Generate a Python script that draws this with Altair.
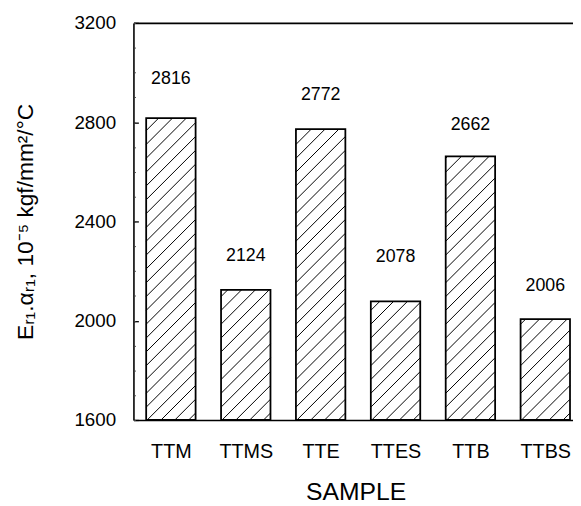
import altair as alt
import pandas as pd

# ---- data ----
samples = ["TTM", "TTMS", "TTE", "TTES", "TTB", "TTBS"]
values = [2816, 2124, 2772, 2078, 2662, 2006]
label_y = [2975, 2260, 2910, 2258, 2790, 2140]   # where the value labels sit
y_ticks = [1600, 2000, 2400, 2800, 3200]
y_minor = list(range(1600, 3201, 100))

# ---- layout ----
W, H = 445, 402
x_dom = [-0.5, 5.37]
y_dom = [y_ticks[0], y_ticks[-1]]
half = 0.33

bars = pd.DataFrame({"idx": list(range(len(samples))), "sample": samples,
                     "value": values, "label_y": label_y})
bars["x0"] = bars["idx"] - half
bars["x1"] = bars["idx"] + half
bars["base"] = y_dom[0]

# hatch segments (45 deg in pixel space), clipped to each bar
ppx = W / (x_dom[1] - x_dom[0])
ppy = H / (y_dom[1] - y_dom[0])
slope = ppx / ppy
gap = 14 / ppy
rows = []
for i, v in enumerate(values):
    x0, x1 = i - half, i + half
    span = slope * (x1 - x0)
    c = y_dom[0] - span + gap * 0.5
    while c < v:
        ya, yb, xa, xb = c, c + span, x0, x1
        if ya < y_dom[0]:
            xa = x0 + (y_dom[0] - c) / slope
            ya = y_dom[0]
        if yb > v:
            xb = x0 + (v - c) / slope
            yb = v
        if xb > xa:
            rows.append(dict(hx=xa, hy=ya, hx2=xb, hy2=yb))
        c += gap
hatch = pd.DataFrame(rows)

xs = alt.Scale(domain=x_dom, nice=False, zero=False)
ys = alt.Scale(domain=y_dom, nice=False, zero=False)
label_expr = "[" + ",".join(f"'{s}'" for s in samples) + "][datum.value]"
ytitle = "Eᵣ₁.αᵣ₁, 10⁻⁵ kgf/mm²/°C"

bar_layer = alt.Chart(bars).mark_bar(fill="white", stroke="black", strokeWidth=1.8).encode(
    x=alt.X("x0:Q", scale=xs, axis=alt.Axis(
        orient="bottom", values=list(range(len(samples))), labelExpr=label_expr,
        ticks=False, tickSize=0, labelPadding=22, labelFontSize=20, labelColor="black",
        domainColor="black", domainWidth=1.6, grid=False,
        title="SAMPLE", titleFontSize=25, titleFontWeight="normal", titleColor="black",
        titleX=225, titleY=81, titleBaseline="alphabetic", titleAlign="center")),
    x2="x1:Q",
    y=alt.Y("value:Q", scale=ys, axis=alt.Axis(
        orient="left", values=y_ticks, format="d", ticks=False, tickSize=0,
        labelPadding=18, labelFontSize=19, labelColor="black", grid=False,
        domainColor="black", domainWidth=1.6,
        title=ytitle, titleFontSize=23, titleFontWeight="normal", titleColor="black",
        titleX=-102, titleY=201, titleAngle=270, titleAlign="center",
        titleBaseline="alphabetic")),
    y2="base:Q",
)

hatch_layer = alt.Chart(hatch).mark_rule(color="black", strokeWidth=1).encode(
    x=alt.X("hx:Q", scale=xs, axis=None),
    x2="hx2:Q",
    y=alt.Y("hy:Q", scale=ys, axis=None),
    y2="hy2:Q",
)

text_layer = alt.Chart(bars).mark_text(fontSize=18, color="black", align="center",
                                       baseline="middle").encode(
    x=alt.X("idx:Q", scale=xs, axis=None),
    y=alt.Y("label_y:Q", scale=ys, axis=None),
    text="value:Q",
)

frame = alt.Chart(pd.DataFrame({"v": y_ticks, "fx": x_dom[0]})).mark_point(opacity=0).encode(
    x=alt.X("fx:Q", scale=xs, axis=alt.Axis(orient="top", labels=False, ticks=False,
                                            domainColor="black", domainWidth=1.6,
                                            grid=False, title="")),
    y=alt.Y("v:Q", scale=ys, axis=alt.Axis(orient="left", values=y_ticks, offset=-5,
                                           tickSize=5, tickColor="black", tickWidth=1.3,
                                           labels=False, domain=False, grid=False, title="")),
)

minor = alt.Chart(pd.DataFrame({"v": y_minor, "fx": x_dom[0]})).mark_point(opacity=0).encode(
    x=alt.X("fx:Q", scale=xs, axis=None),
    y=alt.Y("v:Q", scale=ys, axis=alt.Axis(orient="left", values=y_minor, offset=-2,
                                           tickSize=2, tickColor="#444", tickWidth=1,
                                           labels=False, domain=False, grid=False, title="")),
)

chart = alt.layer(bar_layer, hatch_layer, text_layer, frame, minor).resolve_axis(
    x="independent", y="independent"
).properties(
    width=W, height=H,
    autosize=alt.AutoSizeParams(type="none"),
    padding={"left": 127, "top": 12, "right": 0, "bottom": 83},
).configure(font="Liberation Sans").configure_view(strokeWidth=0)

chart.save("out.html", embed_options={"renderer": "svg", "actions": False})
